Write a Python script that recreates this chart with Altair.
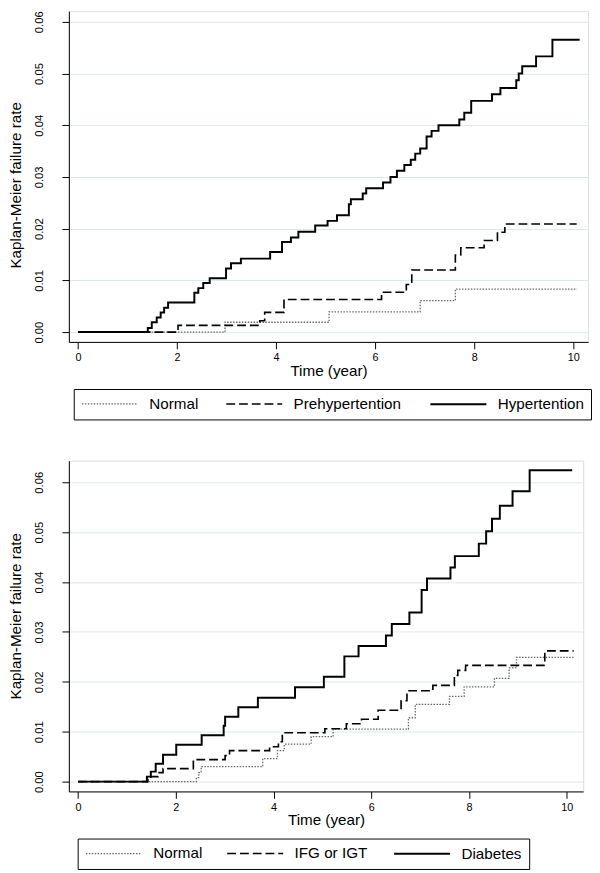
import altair as alt
import pandas as pd

FONT = "Liberation Sans"

# ---------------- Panel 1: blood pressure groups ----------------
bp_groups = ["Normal", "Prehypertention", "Hypertention"]

normal1_t = [0, 2.97, 5.07, 6.91, 7.62, 10.08]
normal1_v = [0, 0.0019, 0.0039, 0.0061, 0.0083, 0.0083]

prehyp_t = [0, 2.02, 3.67, 3.77, 4.16, 6.13, 6.63, 6.74, 7.62, 7.73, 8.20, 8.47, 8.62, 10.07]
prehyp_v = [0, 0.0013, 0.0022, 0.0038, 0.0063, 0.0077, 0.0092, 0.0120, 0.0149, 0.0163,
            0.0177, 0.0193, 0.0209, 0.0209]

hyp_t = [0, 1.41, 1.49, 1.59, 1.67, 1.74, 1.82, 2.35, 2.43, 2.53, 2.66, 2.99, 3.09, 3.29,
         3.88, 4.12, 4.30, 4.45, 4.79, 5.04, 5.23, 5.47, 5.51, 5.75, 5.82, 6.16, 6.31, 6.44,
         6.59, 6.72, 6.81, 6.91, 7.04, 7.14, 7.28, 7.70, 7.80, 7.94, 8.36, 8.53, 8.85, 8.90,
         8.97, 9.25, 9.58, 10.13]
hyp_v = [0, 0.0008, 0.0019, 0.0028, 0.0038, 0.0047, 0.0057, 0.0076, 0.0085, 0.0095, 0.0104,
         0.0123, 0.0133, 0.0142, 0.0155, 0.0174, 0.0183, 0.0194, 0.0206, 0.0215, 0.0226,
         0.0247, 0.0257, 0.0268, 0.0278, 0.0289, 0.0300, 0.0312, 0.0323, 0.0333, 0.0345,
         0.0355, 0.0378, 0.0389, 0.0400, 0.0411, 0.0424, 0.0447, 0.0460, 0.0472, 0.0487,
         0.0500, 0.0514, 0.0533, 0.0565, 0.0565]

# ---------------- Panel 2: glucose groups ----------------
gl_groups = ["Normal", "IFG or IGT", "Diabetes"]

normal2_t = [0, 2.42, 2.47, 2.52, 3.78, 4.08, 4.22, 4.77, 5.22, 6.76, 6.90, 7.60, 7.90, 8.52,
             8.82, 8.97, 10.14]
normal2_v = [0, 0.0008, 0.0018, 0.0030, 0.0046, 0.0062, 0.0075, 0.0090, 0.0105, 0.0128,
             0.0155, 0.0171, 0.0190, 0.0207, 0.0228, 0.0249, 0.0249]

ifg_t = [0, 1.43, 1.49, 1.64, 1.74, 2.36, 3.01, 3.10, 3.92, 4.10, 4.18, 5.05, 5.49, 5.80,
         6.14, 6.61, 6.73, 7.26, 7.70, 7.77, 7.93, 9.55, 10.14]
ifg_v = [0, 0.0007, 0.0010, 0.0018, 0.0026, 0.0044, 0.0052, 0.0062, 0.0070, 0.0080, 0.0098,
         0.0106, 0.0116, 0.0125, 0.0143, 0.0162, 0.0182, 0.0193, 0.0213, 0.0223, 0.0233,
         0.0262, 0.0262]

diab_t = [0, 1.41, 1.49, 1.59, 1.74, 2.01, 2.53, 2.98, 3.01, 3.28, 3.68, 4.44, 5.03, 5.45,
          5.74, 6.30, 6.42, 6.78, 7.03, 7.14, 7.62, 7.71, 8.20, 8.35, 8.47, 8.63, 8.89, 9.24,
          10.11]
diab_v = [0, 0.0010, 0.0020, 0.0036, 0.0054, 0.0074, 0.0093, 0.0112, 0.0130, 0.0149, 0.0168,
          0.0189, 0.0210, 0.0251, 0.0272, 0.0293, 0.0316, 0.0339, 0.0384, 0.0407, 0.0429,
          0.0452, 0.0477, 0.0502, 0.0527, 0.0553, 0.0582, 0.0624, 0.0624]

x_ticks = [0, 2, 4, 6, 8, 10]
y_ticks = [0, 0.01, 0.02, 0.03, 0.04, 0.05, 0.06]


def frame(series):
    rows = []
    for name, ts, vs in series:
        for t, v in zip(ts, vs):
            rows.append({"t": t, "v": v, "group": name})
    return pd.DataFrame(rows)


def panel(df, names, xdom, ydom, width, height, lx, ly, col_pad, title_y):
    leg = alt.Legend(
        title=None, orient="none", legendX=lx, legendY=ly, direction="horizontal",
        columns=3, symbolType="M-1,0H7", symbolSize=203, symbolStrokeWidth=2,
        labelFontSize=15.5, labelFont=FONT, labelColor="black", labelOffset=53,
        columnPadding=col_pad, padding=7, strokeColor="black", fillColor="white",
        labelLimit=300,
    )
    return alt.Chart(df).mark_line(interpolate="step-after").encode(
        x=alt.X("t:Q", scale=alt.Scale(domain=xdom, nice=False, zero=False),
                axis=alt.Axis(values=x_ticks, title="Time (year)", grid=False, tickSize=7,
                              labelPadding=3, labelFontSize=11, labelFont=FONT,
                              titleFont=FONT, titleFontSize=15.5, titleFontWeight="normal",
                              titlePadding=1, domainColor="black", tickColor="black",
                              labelColor="black", titleColor="black", labelFlush=False)),
        y=alt.Y("v:Q", scale=alt.Scale(domain=ydom, nice=False, zero=False),
                axis=alt.Axis(values=y_ticks, format=".2f", title="Kaplan-Meier failure rate",
                              grid=True, gridColor="#dde8ec", gridWidth=1, tickSize=7,
                              labelAngle=270, labelAlign="center", labelBaseline="bottom",
                              labelPadding=18, labelFontSize=11.5, labelFont=FONT,
                              titleFont=FONT, titleFontSize=15.5, titleFontWeight="normal",
                              titlePadding=10, titleY=title_y, domainColor="black",
                              tickColor="black", labelColor="black", titleColor="black",
                              labelFlush=False)),
        color=alt.Color("group:N", scale=alt.Scale(domain=names, range=["#666666", "black", "black"]),
                        legend=leg, sort=names),
        strokeDash=alt.StrokeDash("group:N", scale=alt.Scale(domain=names, range=[[1.5, 1.5], [9, 4], [1, 0]]),
                                  legend=leg, sort=names),
        strokeWidth=alt.StrokeWidth("group:N", scale=alt.Scale(domain=names, range=[1.3, 2, 2]),
                                    legend=None),
        order=alt.Order("t:Q"),
    ).properties(width=width, height=height)


df1 = frame([("Normal", normal1_t, normal1_v), ("Prehypertention", prehyp_t, prehyp_v),
             ("Hypertention", hyp_t, hyp_v)])
df2 = frame([("Normal", normal2_t, normal2_v), ("IFG or IGT", ifg_t, ifg_v),
             ("Diabetes", diab_t, diab_v)])

top = panel(df1, bp_groups, [-0.184, 10.30], [-0.0019, 0.06205], 529, 337, 5, 385, 25, 177)
bottom = panel(df2, gl_groups, [-0.187, 10.335], [-0.00197, 0.06433], 524, 337, 9, 385, 22, 158)

chart = alt.vconcat(top, bottom, spacing=40).resolve_scale(
    x="independent", y="independent", color="independent",
    strokeDash="independent", strokeWidth="independent"
).resolve_legend(color="independent", strokeDash="independent").properties(
    padding={"top": -6, "left": 0, "right": 0, "bottom": 0}
).configure_view(stroke=None).configure(font=FONT, background="white")

chart.save("out.html", embed_options={"renderer": "svg", "actions": False})
